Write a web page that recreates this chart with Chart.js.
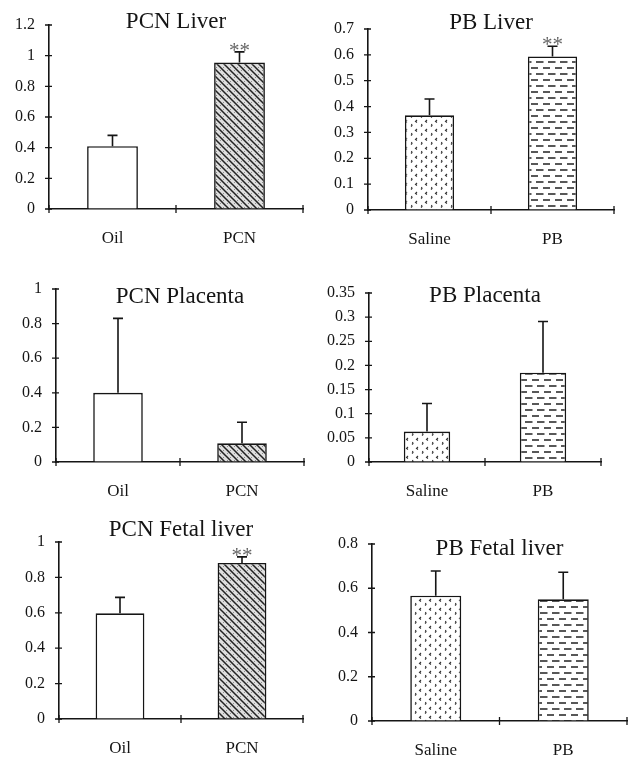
<!DOCTYPE html>
<html>
<head>
<meta charset="utf-8">
<script src="https://cdn.jsdelivr.net/npm/chart.js@4.4.1/dist/chart.umd.min.js"></script>
<style>
  html, body { margin: 0; padding: 0; background: #fff; }
  body { width: 636px; height: 758px; overflow: hidden; position: relative; }
  canvas { position: absolute; }
</style>
</head>
<body>
<canvas id="pcnLiver"></canvas>
<canvas id="pbLiver"></canvas>
<canvas id="pcnPlacenta"></canvas>
<canvas id="pbPlacenta"></canvas>
<canvas id="pcnFetal"></canvas>
<canvas id="pbFetal"></canvas>
<script>
// groups
const pcnGroups = ['Oil', 'PCN'];
const pbGroups = ['Saline', 'PB'];

// PCN Liver
const pcnLiverMean = [0.41, 0.955];
const pcnLiverErr = [0.07, 0.07];
const pcnLiverSig = ['', '**'];
const pcnLiverTicks = [0, 0.2, 0.4, 0.6, 0.8, 1, 1.2];

// PB Liver
const pbLiverMean = [0.366, 0.594];
const pbLiverErr = [0.063, 0.039];
const pbLiverSig = ['', '**'];
const pbLiverTicks = [0, 0.1, 0.2, 0.3, 0.4, 0.5, 0.6, 0.7];

// PCN Placenta
const pcnPlacentaMean = [0.4, 0.108];
const pcnPlacentaErr = [0.43, 0.122];
const pcnPlacentaSig = ['', ''];
const pcnPlacentaTicks = [0, 0.2, 0.4, 0.6, 0.8, 1];

// PB Placenta
const pbPlacentaMean = [0.063, 0.185];
const pbPlacentaErr = [0.058, 0.106];
const pbPlacentaSig = ['', ''];
const pbPlacentaTicks = [0, 0.05, 0.1, 0.15, 0.2, 0.25, 0.3, 0.35];

// PCN Fetal liver
const pcnFetalMean = [0.597, 0.882];
const pcnFetalErr = [0.09, 0.034];
const pcnFetalSig = ['', '**'];
const pcnFetalTicks = [0, 0.2, 0.4, 0.6, 0.8, 1];

// PB Fetal liver
const pbFetalMean = [0.566, 0.55];
const pbFetalErr = [0.112, 0.122];
const pbFetalSig = ['', ''];
const pbFetalTicks = [0, 0.2, 0.4, 0.6, 0.8];

const SERIF = "'Liberation Serif', 'Times New Roman', serif";
const INK = '#151515';

// fill patterns like the printed figure
function tile(w, h, paint) {
  const c = document.createElement('canvas');
  c.width = w; c.height = h;
  const g = c.getContext('2d');
  paint(g);
  return g.createPattern(c, 'repeat');
}

const hatchFill = tile(7, 7, g => {
  g.fillStyle = '#dedede';
  g.fillRect(0, 0, 7, 7);
  g.fillStyle = '#8a8a8a';
  g.fillRect(1, 4, 1, 1);
  g.fillRect(4, 1, 1, 1);
  g.strokeStyle = '#222';
  g.lineWidth = 1.5;
  g.beginPath();
  g.moveTo(-1, -1); g.lineTo(8, 8);
  g.moveTo(-1, 6); g.lineTo(1, 8);
  g.moveTo(6, -1); g.lineTo(8, 1);
  g.stroke();
});

const speckFill = tile(10, 9, g => {
  g.fillStyle = '#fff';
  g.fillRect(0, 0, 10, 9);
  g.strokeStyle = '#333';
  g.lineWidth = 1.1;
  g.beginPath();
  g.moveTo(3, 1); g.lineTo(1.5, 2.5); g.lineTo(3, 3.5);
  g.moveTo(7.5, 5); g.lineTo(8, 6.5); g.lineTo(7, 7.5);
  g.stroke();
});

const dashFill = tile(12, 12, g => {
  g.fillStyle = '#fff';
  g.fillRect(0, 0, 12, 12);
  g.strokeStyle = '#222';
  g.lineWidth = 1.6;
  g.beginPath();
  g.moveTo(1, 3); g.lineTo(8, 3);
  g.moveTo(6, 9); g.lineTo(12, 9);
  g.moveTo(0, 9); g.lineTo(1.5, 9);
  g.stroke();
});

// little crossing tick marks on both axes
const axisMarks = {
  id: 'axisMarks',
  afterDraw(chart) {
    const { ctx, chartArea: a, scales: { x, y } } = chart;
    ctx.save();
    ctx.strokeStyle = INK;
    ctx.lineWidth = 1.3;
    ctx.beginPath();
    y.ticks.forEach(t => {
      const py = y.getPixelForValue(t.value);
      ctx.moveTo(a.left - 4, py);
      ctx.lineTo(a.left + 3, py);
    });
    const mid = (x.getPixelForValue(0) + x.getPixelForValue(1)) / 2;
    [a.left, mid, a.right].forEach(px => {
      ctx.moveTo(px, a.bottom - 4);
      ctx.lineTo(px, a.bottom + 4);
    });
    ctx.stroke();
    ctx.restore();
  }
};

// one-sided error bars with caps, plus significance stars
const errorBars = {
  id: 'errorBars',
  afterDatasetsDraw(chart, args, opts) {
    const { ctx, scales: { y } } = chart;
    const ds = chart.data.datasets[0];
    ctx.save();
    chart.getDatasetMeta(0).data.forEach((bar, i) => {
      const top = y.getPixelForValue(ds.data[i] + opts.err[i]);
      ctx.strokeStyle = INK;
      ctx.lineWidth = 1.6;
      ctx.beginPath();
      ctx.moveTo(bar.x, bar.y);
      ctx.lineTo(bar.x, top);
      ctx.moveTo(bar.x - 5, top);
      ctx.lineTo(bar.x + 5, top);
      ctx.stroke();
      if (opts.sig[i]) {
        ctx.fillStyle = '#666';
        ctx.font = '21px ' + SERIF;
        ctx.textAlign = 'center';
        ctx.textBaseline = 'alphabetic';
        ctx.fillText(opts.sig[i], bar.x, top + 5);
      }
    });
    ctx.restore();
  }
};

// panel title sits inside the plot, so draw it by hand
const panelTitle = {
  id: 'panelTitle',
  afterDraw(chart, args, opts) {
    const { ctx, chartArea: a } = chart;
    ctx.save();
    ctx.fillStyle = INK;
    ctx.font = '23px ' + SERIF;
    ctx.textAlign = 'center';
    ctx.textBaseline = 'middle';
    ctx.fillText(opts.text, (a.left + a.right) / 2, a.top + opts.dy);
    ctx.restore();
  }
};

const PAD_L = 54, PAD_T = 36, PAD_R = 8, PAD_B = 40;

function makePanel(id, box, title, titleDy, groups, mean, err, sig, ticks, fills) {
  const cv = document.getElementById(id);
  const w = box.r - box.l + PAD_L + PAD_R;
  const h = box.b - box.t + PAD_T + PAD_B;
  cv.style.left = (box.l - PAD_L) + 'px';
  cv.style.top = (box.t - PAD_T) + 'px';
  cv.style.width = w + 'px';
  cv.style.height = h + 'px';
  cv.width = w;
  cv.height = h;

  return new Chart(cv, {
    type: 'bar',
    data: {
      labels: groups,
      datasets: [{
        data: mean,
        backgroundColor: fills,
        borderColor: INK,
        borderWidth: 1.6,
        barPercentage: 0.4,
        categoryPercentage: 1
      }]
    },
    options: {
      responsive: false,
      animation: false,
      layout: { padding: { left: 0, top: PAD_T, right: PAD_R, bottom: 0 } },
      plugins: {
        legend: { display: false },
        tooltip: { enabled: false },
        panelTitle: { text: title, dy: titleDy },
        errorBars: { err: err, sig: sig }
      },
      scales: {
        x: {
          grid: { drawOnChartArea: false, drawTicks: false },
          border: { color: INK, width: 1.6 },
          ticks: { color: INK, font: { family: SERIF, size: 17 }, padding: 19 },
          afterFit: s => { s.height = PAD_B; }
        },
        y: {
          min: 0,
          max: ticks[ticks.length - 1],
          grid: { drawOnChartArea: false, drawTicks: false },
          border: { color: INK, width: 1.6 },
          ticks: { color: INK, font: { family: SERIF, size: 16 }, padding: 14,
                   callback: v => String(v) },
          afterBuildTicks: s => { s.ticks = ticks.map(v => ({ value: v })); },
          afterFit: s => { s.width = PAD_L; }
        }
      }
    },
    plugins: [panelTitle, errorBars, axisMarks]
  });
}

makePanel('pcnLiver', { l: 49, t: 25, r: 303, b: 209 }, 'PCN Liver', -3,
  pcnGroups, pcnLiverMean, pcnLiverErr, pcnLiverSig, pcnLiverTicks, ['#fff', hatchFill]);
makePanel('pbLiver', { l: 368, t: 29, r: 614, b: 210 }, 'PB Liver', -6,
  pbGroups, pbLiverMean, pbLiverErr, pbLiverSig, pbLiverTicks, [speckFill, dashFill]);
makePanel('pcnPlacenta', { l: 56, t: 289, r: 304, b: 462 }, 'PCN Placenta', 8,
  pcnGroups, pcnPlacentaMean, pcnPlacentaErr, pcnPlacentaSig, pcnPlacentaTicks, ['#fff', hatchFill]);
makePanel('pbPlacenta', { l: 369, t: 293, r: 601, b: 462 }, 'PB Placenta', 3,
  pbGroups, pbPlacentaMean, pbPlacentaErr, pbPlacentaSig, pbPlacentaTicks, [speckFill, dashFill]);
makePanel('pcnFetal', { l: 59, t: 542, r: 303, b: 719 }, 'PCN Fetal liver', -12,
  pcnGroups, pcnFetalMean, pcnFetalErr, pcnFetalSig, pcnFetalTicks, ['#fff', hatchFill]);
makePanel('pbFetal', { l: 372, t: 544, r: 627, b: 721 }, 'PB Fetal liver', 5,
  pbGroups, pbFetalMean, pbFetalErr, pbFetalSig, pbFetalTicks, [speckFill, dashFill]);
</script>
</body>
</html>
